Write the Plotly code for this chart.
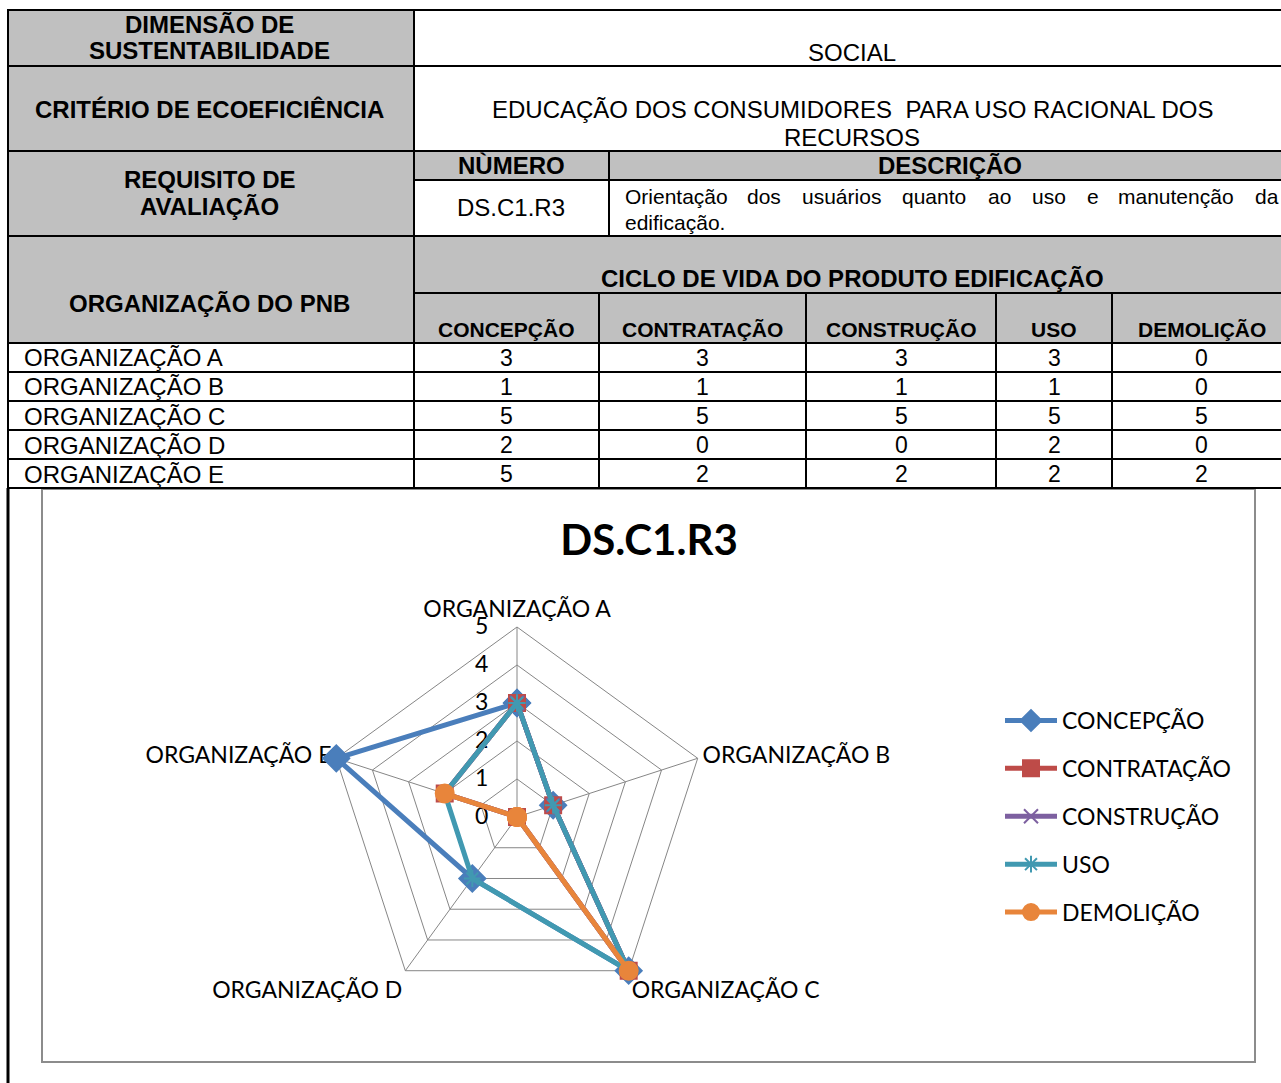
import plotly.graph_objects as go

W, H = 1281, 1083

# dados da tabela
organizacoes = ["ORGANIZAÇÃO A", "ORGANIZAÇÃO B", "ORGANIZAÇÃO C", "ORGANIZAÇÃO D", "ORGANIZAÇÃO E"]
fases = ["CONCEPÇÃO", "CONTRATAÇÃO", "CONSTRUÇÃO", "USO", "DEMOLIÇÃO"]
concepcao = [3, 1, 5, 2, 5]
contratacao = [3, 1, 5, 0, 2]
construcao = [3, 1, 5, 0, 2]
uso = [3, 1, 5, 2, 2]
demolicao = [0, 0, 5, 0, 2]
notas = [concepcao, contratacao, construcao, uso, demolicao]

dimensao = "SOCIAL"
criterio = ["EDUCAÇÃO DOS CONSUMIDORES  PARA USO RACIONAL DOS", "RECURSOS"]
numero = "DS.C1.R3"
descricao_l1 = ["Orientação", "dos", "usuários", "quanto", "ao", "uso", "e", "manutenção", "da"]
descricao_l2 = "edificação."

cores = ["#4A7EBB", "#BE4B48", "#7D60A0", "#4199B1", "#E8853B"]
simbolos = ["diamond", "square", "x-thin-open", "asterisk-open", "circle"]
tamanhos = [20, 16, 14, 14, 18]

CINZA = "#C0C0C0"
ARIAL = "Liberation Sans, Arial"
CALIBRI = "Lato, Carlito, Calibri"


def px(x):
    return x / W


def py(y):
    return 1 - y / H


shapes = []
annotations = []


def celula(x0, y0, x1, y1, fill):
    shapes.append(dict(type="rect", xref="paper", yref="paper",
                       x0=px(x0), x1=px(x1), y0=py(y1), y1=py(y0),
                       fillcolor=fill, line=dict(color="black", width=2)))


def texto(x, y, t, size=24, bold=False, anchor="center", font=ARIAL):
    if bold:
        t = "<b>" + t + "</b>"
    annotations.append(dict(x=px(x), y=py(y), xref="paper", yref="paper", text=t,
                            showarrow=False, xanchor=anchor, yanchor="middle",
                            font=dict(family=font, size=size, color="black")))


# --- tabela ---
XR = 1290
celula(8, 10, 414, 66, CINZA)
celula(8, 66, 414, 151, CINZA)
celula(8, 151, 414, 236, CINZA)
celula(8, 236, 414, 343, CINZA)
celula(414, 10, XR, 66, "white")
celula(414, 66, XR, 151, "white")
celula(414, 151, 609, 180, CINZA)
celula(609, 151, XR, 180, CINZA)
celula(414, 180, 609, 236, "white")
celula(609, 180, XR, 236, "white")
celula(414, 236, XR, 293, CINZA)

cols = [414, 599, 806, 996, 1112, XR]
for i in range(5):
    celula(cols[i], 293, cols[i + 1], 343, CINZA)
for j in range(5):
    y0 = 343 + 29 * j
    celula(8, y0, 414, y0 + 29, "white")
    for i in range(5):
        celula(cols[i], y0, cols[i + 1], y0 + 29, "white")

texto(210, 24, "DIMENSÃO DE", bold=True)
texto(210, 51, "SUSTENTABILIDADE", bold=True)
texto(852, 53, dimensao)
texto(210, 109, "CRITÉRIO DE ECOEFICIÊNCIA", bold=True)
texto(852, 109, criterio[0])
texto(852, 137, criterio[1])
texto(210, 180, "REQUISITO DE", bold=True)
texto(210, 207, "AVALIAÇÃO", bold=True)
texto(511, 165, "NÙMERO", bold=True)
texto(950, 165, "DESCRIÇÃO", bold=True)
texto(511, 208, numero)
pos_palavras = [623, 745, 800, 900, 986, 1030, 1085, 1116, 1253]
for p, w in zip(pos_palavras, descricao_l1):
    texto(p, 196, w, size=21, anchor="left")
texto(623, 222, descricao_l2, size=21, anchor="left")
texto(852, 278, "CICLO DE VIDA DO PRODUTO EDIFICAÇÃO", size=24, bold=True)
texto(210, 303, "ORGANIZAÇÃO DO PNB", bold=True)
for i, f in enumerate(fases):
    texto((cols[i] + min(cols[i + 1], 1281)) / 2 + (0 if i < 4 else 5), 329, f, size=21, bold=True)
for j, org in enumerate(organizacoes):
    yc = 343 + 29 * j + 15
    texto(22, yc, org, anchor="left")
    for i in range(5):
        xc = (cols[i] + cols[i + 1]) / 2 if i < 4 else 1201
        texto(xc, yc, str(notas[i][j]), size=23)

# --- moldura do gráfico ---
shapes.append(dict(type="line", xref="paper", yref="paper", x0=px(8), x1=px(8),
                   y0=py(488), y1=py(1090), line=dict(color="black", width=3)))
shapes.append(dict(type="rect", xref="paper", yref="paper", layer="below",
                   x0=px(42), x1=px(1255), y0=py(1062), y1=py(489),
                   fillcolor="white", line=dict(color="#8C8C8C", width=2)))

fig = go.Figure()
# as séries ficam num segundo eixo polar, mais largo e invisível, para que os
# marcadores no centro (0) e no vértice (5) não sejam ocultados/cortados
for i, f in enumerate(fases):
    vals = notas[i]
    fig.add_trace(go.Scatterpolar(
        r=vals + [vals[0]], theta=organizacoes + [organizacoes[0]],
        mode="lines+markers", name=f, legendgroup=f, subplot="polar2", cliponaxis=True,
        line=dict(color=cores[i], width=5),
        marker=dict(symbol=simbolos[i], size=tamanhos[i], color=cores[i],
                    line=dict(color=cores[i], width=2)),
    ))

cx, cy, R = 517, 817, 190
RMAX2 = 5.5
R2 = R * RMAX2 / 5

fig.update_layout(
    width=W, height=H,
    margin=dict(l=0, r=0, t=0, b=0),
    paper_bgcolor="white",
    shapes=shapes,
    annotations=annotations,
    title=dict(text="<b>DS.C1.R3</b>", x=px(649), y=py(540), xanchor="center", yanchor="middle",
               xref="paper", yref="paper",
               font=dict(family=CALIBRI, size=42, color="black")),
    polar=dict(
        domain=dict(x=[px(cx - R), px(cx + R)], y=[py(cy + R), py(cy - R)]),
        gridshape="linear",
        bgcolor="rgba(0,0,0,0)",
        angularaxis=dict(type="category", categoryarray=organizacoes,
                         direction="clockwise", rotation=90, showline=True,
                         linecolor="#868686", linewidth=1, gridcolor="#868686",
                         ticks="", tickfont=dict(family=CALIBRI, size=23, color="black")),
        radialaxis=dict(range=[0, 5], tickvals=[0, 1, 2, 3, 4, 5], angle=90,
                        side="counterclockwise", tickangle=90,
                        showline=False, gridcolor="#868686", ticks="outside", ticklen=20,
                        tickcolor="rgba(0,0,0,0)",
                        tickfont=dict(family=CALIBRI, size=23, color="black")),
    ),
    polar2=dict(
        domain=dict(x=[px(cx - R2), px(cx + R2)], y=[py(cy + R2), py(cy - R2)]),
        gridshape="linear",
        bgcolor="rgba(0,0,0,0)",
        angularaxis=dict(type="category", categoryarray=organizacoes,
                         direction="clockwise", rotation=90, visible=False),
        radialaxis=dict(range=[0, RMAX2], visible=False),
    ),
    legend=dict(x=px(1000), y=py(699), xanchor="left", yanchor="top",
                font=dict(family=CALIBRI, size=23, color="black"),
                tracegroupgap=15, itemwidth=52, bgcolor="rgba(0,0,0,0)"),
    showlegend=True,
)
# um traço vazio no primeiro eixo polar para que a grade e os rótulos apareçam
fig.add_trace(go.Scatterpolar(r=[], theta=[], subplot="polar", showlegend=False))

fig.write_html("out.html", config={"displayModeBar": False},
               post_script="document.body.style.margin='0';")
